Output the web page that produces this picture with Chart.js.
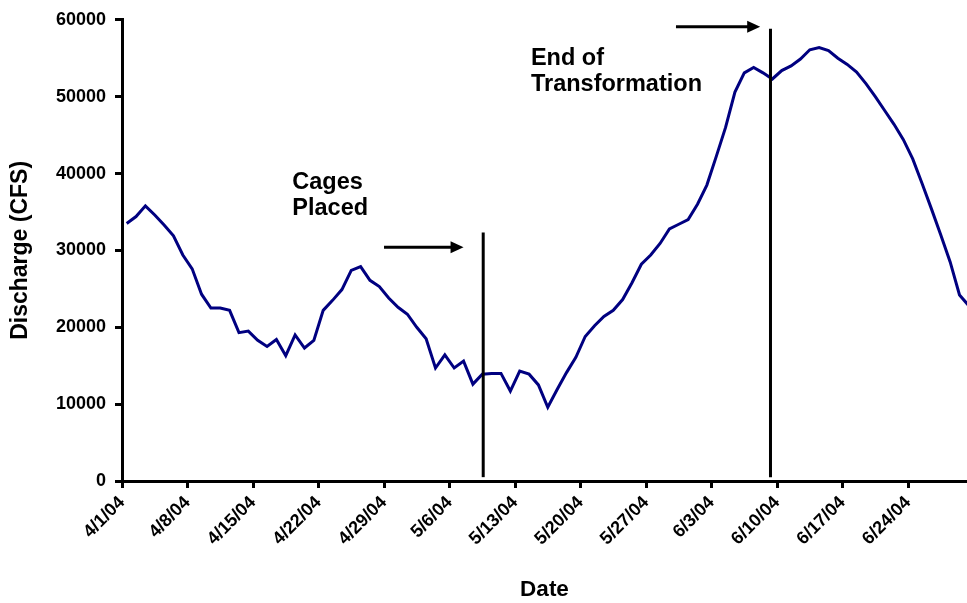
<!DOCTYPE html>
<html>
<head>
<meta charset="utf-8">
<script src="https://cdn.jsdelivr.net/npm/chart.js@4.4.1/dist/chart.umd.min.js"></script>
<style>
  html, body { margin: 0; padding: 0; background: #fff; }
</style>
</head>
<body>
<canvas id="canva1" width="967" height="603"></canvas>
<script>
// débit journalier (CFS), un point par jour du 4/1/04 au 6/30/04
const debits = [
  33500, 34400, 35800, 34600, 33300, 31900, 29400, 27600, 24300, 22500,
  22500, 22200, 19300, 19500, 18300, 17500, 18400, 16300, 19000, 17300,
  18300, 22200, 23500, 24900, 27400, 27900, 26100, 25300, 23800, 22600,
  21700, 20000, 18500, 14700, 16400, 14700, 15600, 12600, 13900, 14000,
  14000, 11700, 14300, 13900, 12500,  9600, 11900, 14100, 16100, 18800,
  20200, 21400, 22200, 23600, 25800, 28200, 29400, 30900, 32800, 33400,
  34000, 36000, 38500, 42200, 46000, 50600, 53100, 53800, 53100, 52300,
  53400, 54000, 54900, 56100, 56400, 56000, 55000, 54200, 53200, 51700,
  50000, 48200, 46400, 44400, 41900, 38700, 35400, 32000, 28500, 24200,
  22800
];

// étiquettes de l'axe X (une toutes les semaines)
const etiquettesDates = ['4/1/04', '4/8/04', '4/15/04', '4/22/04', '4/29/04', '5/6/04',
  '5/13/04', '5/20/04', '5/27/04', '6/3/04', '6/10/04', '6/17/04', '6/24/04'];

// graduations de l'axe Y
const graduationsY = [0, 10000, 20000, 30000, 40000, 50000, 60000];

// annotations (en jours depuis le 4/1 et en CFS)
const annotations = {
  lignes: [
    { x: 38.6, y1: 500, y2: 32330 },
    { x: 69.3, y1: 500, y2: 58840 }
  ],
  fleches: [
    { x1: 28.0, x2: 36.5, y: 30400 },
    { x1: 59.2, x2: 68.2, y: 59100 }
  ],
  textes: [
    { x: 18.2, y: 38000, texte: 'Cages' },
    { x: 18.2, y: 34600, texte: 'Placed' },
    { x: 43.7, y: 54150, texte: 'End of' },
    { x: 43.7, y: 50750, texte: 'Transformation' }
  ]
};

const police = '"Liberation Sans", Arial, sans-serif';

// plugin maison pour dessiner les flèches, les traits et les textes
const pluginAnnotations = {
  id: 'annotationsMaison',
  afterDatasetsDraw(chart) {
    const ctx = chart.ctx;
    const sx = chart.scales.x;
    const sy = chart.scales.y;
    ctx.save();
    ctx.strokeStyle = '#000';
    ctx.fillStyle = '#000';
    ctx.lineWidth = 3;
    ctx.lineCap = 'butt';

    annotations.lignes.forEach(l => {
      const px = sx.getPixelForValue(l.x);
      ctx.beginPath();
      ctx.moveTo(px, sy.getPixelForValue(l.y1));
      ctx.lineTo(px, sy.getPixelForValue(l.y2));
      ctx.stroke();
    });

    annotations.fleches.forEach(f => {
      const x1 = sx.getPixelForValue(f.x1);
      const x2 = sx.getPixelForValue(f.x2);
      const py = sy.getPixelForValue(f.y);
      ctx.beginPath();
      ctx.moveTo(x1, py);
      ctx.lineTo(x2 - 10, py);
      ctx.stroke();
      ctx.beginPath();
      ctx.moveTo(x2, py);
      ctx.lineTo(x2 - 13, py - 6);
      ctx.lineTo(x2 - 13, py + 6);
      ctx.closePath();
      ctx.fill();
    });

    ctx.font = 'bold 23.5px ' + police;
    ctx.textAlign = 'left';
    ctx.textBaseline = 'alphabetic';
    annotations.textes.forEach(t => {
      ctx.fillText(t.texte, sx.getPixelForValue(t.x), sy.getPixelForValue(t.y));
    });
    ctx.restore();
  }
};

const points = debits.map((v, i) => ({ x: i + 0.5, y: v }));

const ctx = document.querySelector('#canva1');
new Chart(ctx, {
  type: 'line',
  data: {
    datasets: [{
      label: 'Discharge',
      data: points,
      borderColor: '#000080',
      borderWidth: 3,
      pointRadius: 0,
      tension: 0,
      fill: false
    }]
  },
  options: {
    responsive: false,
    animation: false,
    devicePixelRatio: 1,
    layout: { padding: { top: 17, right: 0, left: 0, bottom: 0 } },
    plugins: {
      legend: { display: false },
      tooltip: { enabled: false }
    },
    scales: {
      x: {
        type: 'linear',
        min: 0,
        max: 90.3,
        afterBuildTicks: scale => {
          scale.ticks = etiquettesDates.map((_, i) => ({ value: i * 7 }));
        },
        afterFit: scale => { scale.height = 122; },
        ticks: {
          callback: v => etiquettesDates[Math.round(v / 7)],
          maxRotation: 45,
          minRotation: 45,
          autoSkip: false,
          color: '#000',
          padding: 4,
          font: { family: police, size: 18, weight: 'bold' }
        },
        grid: {
          drawOnChartArea: false,
          tickLength: 7,
          color: '#000',
          lineWidth: 3
        },
        border: { color: '#000', width: 3 },
        title: {
          display: true,
          text: 'Date',
          color: '#000',
          padding: { top: 0, bottom: 0 },
          font: { family: police, size: 22.5, weight: 'bold' }
        }
      },
      y: {
        min: 0,
        max: 60000,
        afterBuildTicks: scale => {
          scale.ticks = graduationsY.map(v => ({ value: v }));
        },
        afterFit: scale => { scale.width = 122; },
        ticks: {
          callback: v => String(v),
          color: '#000',
          padding: 9,
          font: { family: police, size: 18, weight: 'bold' }
        },
        grid: {
          drawOnChartArea: false,
          tickLength: 7,
          color: '#000',
          lineWidth: 3
        },
        border: { color: '#000', width: 3 },
        title: {
          display: true,
          text: 'Discharge (CFS)',
          color: '#000',
          padding: { top: 7, bottom: 0 },
          font: { family: police, size: 23, weight: 'bold' }
        }
      }
    }
  },
  plugins: [pluginAnnotations]
});
</script>
</body>
</html>
